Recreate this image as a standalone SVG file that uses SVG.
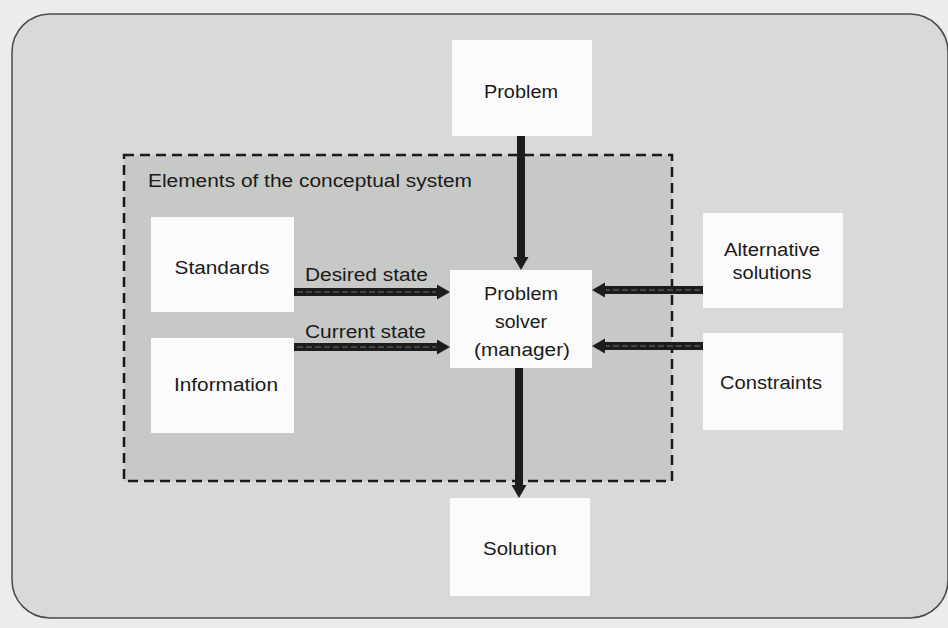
<svg xmlns="http://www.w3.org/2000/svg" width="948" height="628" viewBox="0 0 948 628">
  <style>
    .box { fill: #fbfbfb; }
    .lbl { font-family: "Liberation Sans", Arial, sans-serif; font-size: 18px; fill: #1a1a1a; text-anchor: middle; }
    .lbl-l { font-family: "Liberation Sans", Arial, sans-serif; font-size: 18px; fill: #1a1a1a; }
    .bar { stroke: #1c1c1c; stroke-width: 8; fill: none; }
    .bar-in { stroke: #464646; stroke-width: 2; stroke-dasharray: 6 3; fill: none; }
  </style>
  <defs>
    <!-- head begins where the bar stops; tip lies 12 units further on -->
    <marker id="head" markerUnits="userSpaceOnUse" markerWidth="14" markerHeight="18" viewBox="0 0 14 18" refX="1" refY="9" orient="auto">
      <path d="M0,1.5 L13,9 L0,16.5 Z" fill="#1c1c1c"/>
    </marker>
  </defs>

  <!-- page -->
  <rect x="0" y="0" width="948" height="628" fill="#ececec"/>
  <!-- outer panel -->
  <rect x="12" y="14" width="936" height="604" rx="38" fill="#d8d9d8" stroke="#4a4a4a" stroke-width="1.5"/>
  <!-- conceptual system boundary -->
  <g id="conceptual-system">
    <rect x="124" y="155" width="548" height="326" fill="#c7c9c6" stroke="#1a1a1a" stroke-width="2.5" stroke-dasharray="10 6"/>
    <text class="lbl-l" x="148" y="187" textLength="324" lengthAdjust="spacingAndGlyphs">Elements of the conceptual system</text>
  </g>

  <!-- connectors -->
  <g id="connectors">
    <line class="bar" x1="521" y1="135" x2="521" y2="258" marker-end="url(#head)"/>
    <line class="bar" x1="294" y1="292" x2="438" y2="292" marker-end="url(#head)"/>
    <line class="bar-in" x1="297" y1="292" x2="436" y2="292"/>
    <line class="bar" x1="294" y1="347" x2="438" y2="347" marker-end="url(#head)"/>
    <line class="bar-in" x1="297" y1="347" x2="436" y2="347"/>
    <line class="bar" x1="703" y1="290" x2="604" y2="290" marker-end="url(#head)"/>
    <line class="bar-in" x1="700" y1="290" x2="606" y2="290"/>
    <line class="bar" x1="703" y1="346" x2="604" y2="346" marker-end="url(#head)"/>
    <line class="bar-in" x1="700" y1="346" x2="606" y2="346"/>
    <line class="bar" x1="519" y1="368" x2="519" y2="486" marker-end="url(#head)"/>
    <text class="lbl-l" x="305" y="281" textLength="123" lengthAdjust="spacingAndGlyphs">Desired state</text>
    <text class="lbl-l" x="305" y="338" textLength="121" lengthAdjust="spacingAndGlyphs">Current state</text>
  </g>

  <!-- nodes -->
  <g id="problem">
    <rect class="box" x="452" y="40" width="140" height="96"/>
    <text class="lbl" x="521" y="98" textLength="74" lengthAdjust="spacingAndGlyphs">Problem</text>
  </g>
  <g id="standards">
    <rect class="box" x="151" y="217" width="143" height="95"/>
    <text class="lbl" x="222" y="274" textLength="95" lengthAdjust="spacingAndGlyphs">Standards</text>
  </g>
  <g id="information">
    <rect class="box" x="151" y="338" width="143" height="95"/>
    <text class="lbl" x="226" y="391" textLength="104" lengthAdjust="spacingAndGlyphs">Information</text>
  </g>
  <g id="problem-solver">
    <rect class="box" x="450" y="270" width="142" height="98"/>
    <text class="lbl" x="521" y="300" textLength="74" lengthAdjust="spacingAndGlyphs">Problem</text>
    <text class="lbl" x="521" y="328" textLength="52" lengthAdjust="spacingAndGlyphs">solver</text>
    <text class="lbl" x="522" y="356" textLength="96" lengthAdjust="spacingAndGlyphs">(manager)</text>
  </g>
  <g id="alternative-solutions">
    <rect class="box" x="703" y="213" width="140" height="95"/>
    <text class="lbl" x="772" y="256" textLength="96" lengthAdjust="spacingAndGlyphs">Alternative</text>
    <text class="lbl" x="772" y="279" textLength="79" lengthAdjust="spacingAndGlyphs">solutions</text>
  </g>
  <g id="constraints">
    <rect class="box" x="703" y="333" width="140" height="97"/>
    <text class="lbl" x="771" y="389" textLength="102" lengthAdjust="spacingAndGlyphs">Constraints</text>
  </g>
  <g id="solution">
    <rect class="box" x="450" y="498" width="140" height="98"/>
    <text class="lbl" x="520" y="555" textLength="74" lengthAdjust="spacingAndGlyphs">Solution</text>
  </g>
</svg>
